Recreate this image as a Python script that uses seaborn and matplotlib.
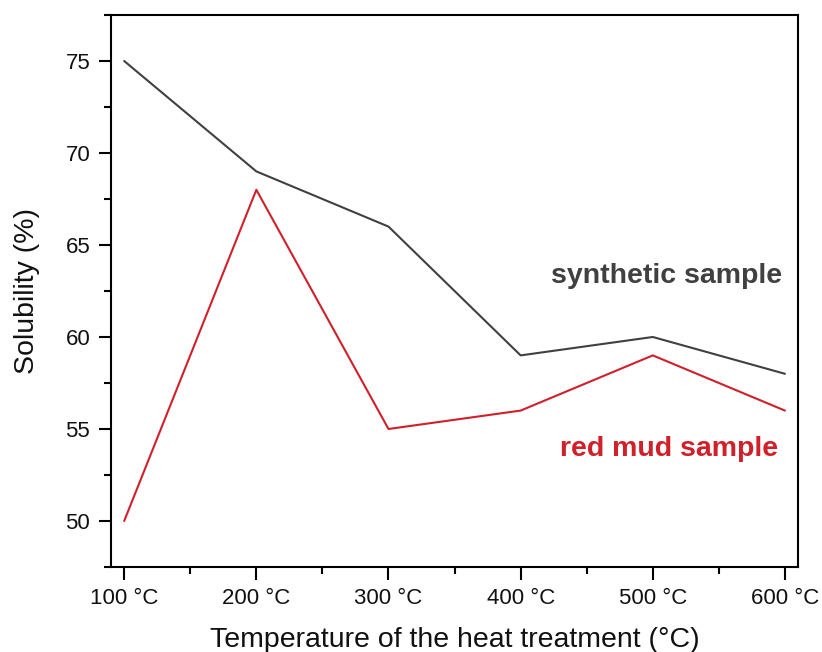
import matplotlib
matplotlib.use("Agg")
import matplotlib.pyplot as plt
import seaborn as sns
import numpy as np
from matplotlib.ticker import MultipleLocator

categories = ["100 °C", "200 °C", "300 °C", "400 °C", "500 °C", "600 °C"]
synthetic = [75, 69, 66, 59, 60, 58]
red_mud = [50, 68, 55, 56, 59, 56]

sns.set_theme(style="ticks")
plt.rcParams['font.family'] = ['Liberation Sans', 'DejaVu Sans']

fig = plt.figure(figsize=(8.22, 6.52), dpi=100)
ax = fig.add_axes([0.135, 0.1304, 0.836, 0.8466])

x = np.arange(len(categories))
sns.lineplot(x=x, y=synthetic, ax=ax, color="#404040", linewidth=1.5)
sns.lineplot(x=x, y=red_mud, ax=ax, color="#d0202a", linewidth=1.5)

ax.set_xlim(-0.1, 5.1)
ax.set_ylim(47.5, 77.5)
ax.set_xticks(x)
ax.set_xticklabels(categories)
ax.xaxis.set_minor_locator(MultipleLocator(0.5))
ax.yaxis.set_major_locator(MultipleLocator(5))
ax.yaxis.set_minor_locator(MultipleLocator(2.5))
ax.tick_params(axis='both', which='major', length=9, width=1.5, labelsize=16, color='black', labelcolor='#111111', direction='out', pad=6)
ax.tick_params(axis='both', which='minor', length=5, width=1.5, color='black', direction='out')
for s in ax.spines.values():
    s.set_linewidth(1.5)
    s.set_color('black')
    s.set_visible(True)

ax.set_xlabel("Temperature of the heat treatment (°C)", fontsize=20.5, labelpad=13, color='#111111')
ax.set_ylabel("Solubility (%)", fontsize=20.5, labelpad=18, color='#111111')

ax.text(4.98, 63.3, "synthetic sample", ha='right', va='center', fontsize=20.5, fontweight='bold', color='#404040')
ax.text(4.95, 53.9, "red mud sample", ha='right', va='center', fontsize=20.5, fontweight='bold', color='#d0202a')

fig.savefig("out.png", dpi=100)
